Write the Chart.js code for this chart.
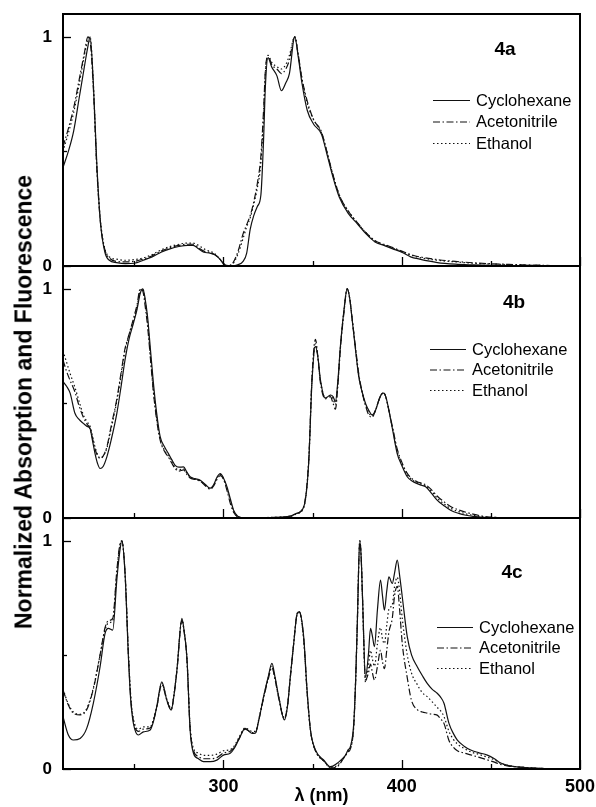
<!DOCTYPE html>
<html>
<head>
<meta charset="utf-8">
<script src="https://cdn.jsdelivr.net/npm/chart.js@4.4.1/dist/chart.umd.min.js"></script>
<style>
  body { margin: 0; background: #fff; }
  #wrap { position: relative; width: 596px; height: 807px; }
  #wrap canvas { position: absolute; left: 0; top: 0; }
  #ytitle {
    position: absolute; left: 24px; top: 402px;
    transform: translate(-50%, -50%) rotate(-90deg);
    white-space: nowrap; font: bold 23px 'Liberation Sans', Arial, sans-serif; color: #000;
  }
</style>
</head>
<body>
<div id="wrap">
  <canvas id="c4a" width="596" height="807"></canvas>
  <canvas id="c4b" width="596" height="807"></canvas>
  <canvas id="c4c" width="596" height="807"></canvas>
  <div id="ytitle">Normalized Absorption and Fluorescence</div>
</div>
<script>
// ---- data ----
const solvents = ['Cyclohexane', 'Acetonitrile', 'Ethanol'];
const xTicks = [250, 300, 350, 400, 450, 500];
const yTicks = [0, 0.5, 1];

// 4a
const wl4a = [210,213,216,219,222,224,225.2,227,229,231,233.5,236,240,245,250,255,260,265,270,275,
  280,283,286,289,292,295,298,300,302,305,308,311,313,315,317,319,321,322.5,323.5,325,
  327,330,332.5,335,337,340,342,344,347,350.5,355,358,361,365,370,375,380,385,390,395,
  400,405,410,420,430,440,450,460,470,480,490,500];
const cyc4a = [0.43,0.50,0.59,0.73,0.87,0.96,1.0,0.80,0.44,0.19,
  0.06,0.025,0.015,0.01,0.012,0.025,0.04,0.06,0.075,0.085,
  0.09,0.09,0.075,0.06,0.057,0.05,0.03,0.01,0,0,
  0.005,0.02,0.055,0.16,0.22,0.26,0.31,0.55,0.78,0.91,
  0.87,0.83,0.765,0.80,0.84,1.0,0.91,0.80,0.68,0.62,
  0.575,0.49,0.40,0.30,0.23,0.185,0.14,0.105,0.09,0.075,
  0.06,0.04,0.03,0.015,0.008,0.005,0.003,0.002,0.001,0,0,0];
const ace4a = [0.52,0.60,0.69,0.81,0.93,1.0,0.98,0.78,0.42,0.19,
  0.07,0.035,0.02,0.018,0.02,0.03,0.045,0.065,0.08,0.09,
  0.095,0.095,0.08,0.065,0.06,0.05,0.03,0.012,0,0.01,
  0.06,0.14,0.18,0.22,0.28,0.36,0.48,0.68,0.85,0.92,
  0.88,0.86,0.84,0.86,0.90,1.0,0.92,0.82,0.72,0.64,
  0.585,0.50,0.41,0.31,0.24,0.19,0.145,0.11,0.095,0.08,
  0.065,0.05,0.04,0.028,0.02,0.014,0.01,0.007,0.005,0.003,0.001,0];
const eth4a = [0.50,0.58,0.67,0.79,0.92,0.99,1.0,0.80,0.43,0.20,
  0.075,0.04,0.03,0.025,0.028,0.035,0.05,0.07,0.085,0.095,
  0.10,0.10,0.09,0.075,0.065,0.055,0.03,0.012,0.003,0.008,
  0.05,0.12,0.17,0.21,0.27,0.34,0.45,0.65,0.84,0.92,
  0.89,0.87,0.86,0.88,0.92,1.0,0.92,0.82,0.71,0.64,
  0.58,0.50,0.41,0.31,0.24,0.19,0.145,0.11,0.092,0.078,
  0.063,0.048,0.037,0.025,0.018,0.012,0.009,0.006,0.004,0.002,0.001,0];

// 4b
const wl4b = [210,212,214,216.7,219,221.4,223.5,225.2,226.5,228,229.5,230.8,232.5,234.6,237,240.2,242.5,244.8,247,249.5,
  251.5,253.3,254.8,256,257.4,259,260.7,262.5,264.5,267,269.2,271,272.9,275,277.6,279.5,281.3,284,287,290,
  292.6,294.5,296.5,298.2,300,302,304,305.7,308,312,320,330,337.5,341,345,347.8,349.7,351.6,353,354.4,
  357.2,360,361.5,362.8,364.2,365.6,367.5,369.4,370.8,372.2,374,375.9,377.8,379.7,381.5,383.4,385.3,387.2,388.6,390,
  391.4,392.8,395,397.5,400,403.1,406,408.7,411,413.4,416.5,420,423.5,427.4,432,436,440,444,448,455,
  465,480,500];
const cyc4b = [0.595,0.575,0.545,0.457,0.43,0.413,0.40,0.39,0.34,0.28,
  0.235,0.216,0.225,0.267,0.34,0.457,0.57,0.69,0.78,0.85,
  0.91,0.98,1.0,0.96,0.88,0.74,0.59,0.46,0.355,0.31,
  0.28,0.255,0.23,0.222,0.223,0.20,0.18,0.172,0.165,0.145,
  0.13,0.145,0.18,0.194,0.175,0.136,0.08,0.034,0.008,0,
  0,0.003,0.008,0.02,0.048,0.238,0.60,0.749,0.70,0.603,
  0.523,0.537,0.53,0.508,0.60,0.749,0.90,1.0,0.96,0.866,
  0.74,0.617,0.55,0.50,0.47,0.45,0.47,0.515,0.54,0.545,
  0.52,0.47,0.38,0.28,0.23,0.18,0.16,0.15,0.143,0.136,
  0.11,0.077,0.055,0.034,0.02,0.012,0.007,0.004,0.002,0.001,
  0,0,0];
const ace4b = [0.69,0.64,0.60,0.55,0.49,0.44,0.41,0.39,0.35,0.30,
  0.27,0.26,0.27,0.31,0.40,0.52,0.63,0.74,0.80,0.87,
  0.93,1.0,0.99,0.93,0.84,0.70,0.55,0.43,0.34,0.29,
  0.265,0.24,0.215,0.205,0.21,0.19,0.175,0.168,0.16,0.14,
  0.125,0.14,0.17,0.185,0.17,0.12,0.06,0.025,0.005,0,
  0,0.003,0.008,0.02,0.05,0.25,0.62,0.78,0.70,0.59,
  0.52,0.53,0.50,0.475,0.58,0.74,0.89,1.0,0.96,0.87,
  0.75,0.63,0.55,0.49,0.45,0.44,0.47,0.515,0.54,0.545,
  0.52,0.47,0.39,0.30,0.245,0.195,0.17,0.158,0.152,0.145,
  0.125,0.095,0.072,0.05,0.035,0.025,0.017,0.01,0.005,0.002,
  0.001,0,0];
const eth4b = [0.73,0.68,0.63,0.57,0.51,0.45,0.42,0.40,0.36,0.31,
  0.275,0.262,0.27,0.305,0.39,0.51,0.62,0.73,0.80,0.86,
  0.92,0.99,1.0,0.95,0.86,0.71,0.56,0.44,0.345,0.295,
  0.27,0.245,0.22,0.21,0.215,0.195,0.178,0.17,0.162,0.142,
  0.128,0.142,0.175,0.19,0.172,0.128,0.07,0.03,0.006,0.002,
  0.002,0.003,0.006,0.018,0.045,0.24,0.61,0.76,0.70,0.60,
  0.525,0.535,0.52,0.495,0.59,0.745,0.90,1.0,0.96,0.868,
  0.745,0.62,0.55,0.495,0.46,0.445,0.47,0.515,0.54,0.545,
  0.52,0.47,0.385,0.29,0.238,0.19,0.165,0.155,0.148,0.14,
  0.118,0.086,0.063,0.042,0.028,0.018,0.012,0.007,0.004,0.002,
  0,0,0];

// 4c
const wl4c = [210,213,215.8,219.6,223.3,227,230.8,233.6,235.5,237.9,240.2,241.8,243,244.8,246.7,248,249.5,252.3,255.1,258.9,
  260.8,262.6,265.4,268.3,270.7,272.2,273.9,276.7,278,279.5,281.3,283.2,286,288.8,292.5,296.3,300,303.8,306,308.5,
  312.2,316,317.9,320,322.5,325,327.2,329,331,334.2,336,337.5,339.4,341.3,342.5,345,346.9,348.8,351.6,356.3,
  360,363.8,366,368.5,370,371.2,373.1,374.2,375,376.5,377.3,378,379.7,381.3,382.5,383.6,384.7,386.4,388.1,389.2,
  390.3,391.6,392.8,394.7,396,397.5,398.8,400.3,403.1,405.5,408.7,411.5,414.3,417,419.9,421.8,423.7,426.5,429,431.2,
  435,438.7,443,448,452,455.5,460,470,480,490,500];
const cyc4c = [0.229,0.149,0.127,0.134,0.178,0.288,0.448,0.594,0.616,0.609,
  0.83,0.95,1.0,0.857,0.49,0.30,0.20,0.149,0.163,0.171,
  0.21,0.273,0.382,0.30,0.258,0.32,0.434,0.66,0.60,0.49,
  0.171,0.069,0.045,0.032,0.032,0.039,0.061,0.069,0.09,0.127,
  0.178,0.156,0.157,0.22,0.317,0.40,0.463,0.40,0.317,0.215,
  0.28,0.404,0.55,0.68,0.69,0.58,0.346,0.171,0.083,0.039,
  0.01,0.025,0.04,0.061,0.085,0.098,0.20,0.40,0.61,1.0,
  0.92,0.755,0.404,0.50,0.616,0.58,0.536,0.70,0.828,0.76,
  0.696,0.78,0.842,0.813,0.86,0.915,0.85,0.755,0.58,0.50,
  0.448,0.41,0.375,0.35,0.332,0.315,0.288,0.20,0.155,0.127,
  0.10,0.083,0.072,0.061,0.045,0.026,0.015,0.006,0.002,0,0];
const ace4c = [0.346,0.28,0.245,0.237,0.26,0.35,0.50,0.62,0.65,0.66,
  0.87,0.98,1.0,0.86,0.50,0.31,0.21,0.165,0.175,0.18,
  0.215,0.27,0.37,0.30,0.26,0.32,0.43,0.65,0.60,0.48,
  0.18,0.08,0.055,0.045,0.045,0.05,0.07,0.078,0.095,0.13,
  0.175,0.16,0.16,0.22,0.31,0.39,0.445,0.39,0.31,0.22,
  0.28,0.40,0.55,0.68,0.69,0.57,0.34,0.17,0.08,0.035,
  0.005,0.01,0.03,0.06,0.075,0.088,0.19,0.40,0.62,1.0,
  0.92,0.75,0.39,0.42,0.46,0.42,0.39,0.45,0.52,0.47,
  0.44,0.52,0.60,0.66,0.76,0.80,0.70,0.55,0.40,0.30,
  0.26,0.25,0.245,0.24,0.236,0.22,0.20,0.125,0.095,0.08,
  0.07,0.062,0.052,0.04,0.03,0.02,0.013,0.006,0.002,0,0];
const eth4c = [0.35,0.285,0.25,0.24,0.265,0.355,0.50,0.61,0.64,0.65,
  0.86,0.97,1.0,0.86,0.51,0.32,0.22,0.175,0.185,0.185,
  0.22,0.275,0.375,0.305,0.265,0.325,0.435,0.655,0.60,0.49,
  0.19,0.09,0.07,0.06,0.06,0.065,0.08,0.085,0.10,0.135,
  0.18,0.165,0.165,0.225,0.315,0.395,0.45,0.395,0.315,0.225,
  0.285,0.40,0.55,0.675,0.685,0.57,0.34,0.17,0.08,0.035,
  0.008,0.015,0.035,0.06,0.08,0.09,0.19,0.40,0.61,1.0,
  0.92,0.75,0.38,0.45,0.52,0.48,0.45,0.55,0.62,0.57,
  0.55,0.63,0.70,0.72,0.80,0.84,0.78,0.66,0.50,0.42,
  0.37,0.335,0.317,0.295,0.27,0.255,0.23,0.165,0.13,0.11,
  0.09,0.075,0.065,0.052,0.04,0.025,0.015,0.006,0.002,0,0];

// ---- styling ----
const FONT = "'Liberation Sans', Arial, sans-serif";
Chart.defaults.font.family = FONT;
Chart.defaults.color = '#000';
const dashes = [[], [7, 2.5, 1.5, 2.5], [1.5, 2.5]];

function pts(wl, vals) {
  return wl.map((x, i) => ({ x: x, y: vals[i] }));
}

// frame, inward ticks, panel tag and legend
const panelDeco = {
  id: 'panelDeco',
  afterDraw(chart, args, opts) {
    const ctx = chart.ctx;
    const a = chart.chartArea;
    const xs = chart.scales.x, ys = chart.scales.y;
    ctx.save();
    ctx.strokeStyle = '#000';
    ctx.lineWidth = 1.3;
    xTicks.forEach(v => {
      const px = Math.round(xs.getPixelForValue(v)) + 0.5;
      const len = v % 100 === 0 ? 9 : 5;
      ctx.beginPath(); ctx.moveTo(px, a.bottom); ctx.lineTo(px, a.bottom - len); ctx.stroke();
    });
    yTicks.forEach(v => {
      const py = Math.round(ys.getPixelForValue(v)) + 0.5;
      const len = v === 0.5 ? 4 : 8;
      ctx.beginPath(); ctx.moveTo(a.left, py); ctx.lineTo(a.left + len, py); ctx.stroke();
    });
    ctx.lineWidth = 2;
    ctx.strokeRect(a.left, a.top, a.right - a.left, a.bottom - a.top);

    ctx.fillStyle = '#000';
    ctx.font = 'bold 19px ' + FONT;
    ctx.textAlign = 'center';
    ctx.textBaseline = 'middle';
    ctx.fillText(opts.tag, opts.tagX, opts.tagY);

    ctx.font = '16.5px ' + FONT;
    ctx.textAlign = 'left';
    chart.data.datasets.forEach((ds, i) => {
      const y = opts.legY + i * opts.legGap;
      ctx.save();
      ctx.lineWidth = 1.1;
      ctx.strokeStyle = ds.borderColor;
      ctx.setLineDash(ds.borderDash);
      ctx.beginPath(); ctx.moveTo(opts.legX, y + 0.5); ctx.lineTo(opts.legX + opts.legLen, y + 0.5); ctx.stroke();
      ctx.restore();
      ctx.fillText(ds.label, opts.legX + opts.legLen + 6, y + 1);
    });
    ctx.restore();
  }
};

function makePanel(id, wl, series, cfg) {
  const datasets = series.map((vals, i) => ({
    label: solvents[i],
    data: pts(wl, vals),
    borderColor: '#111',
    borderWidth: 1.2,
    borderDash: dashes[i],
    pointRadius: 0,
    fill: false,
    cubicInterpolationMode: 'monotone'
  }));
  return new Chart(document.getElementById(id), {
    type: 'line',
    data: { datasets: datasets },
    plugins: [panelDeco],
    options: {
      responsive: false,
      animation: false,
      events: [],
      layout: { padding: { top: cfg.top, bottom: cfg.bottom, left: 0, right: 16 } },
      plugins: {
        legend: { display: false },
        tooltip: { enabled: false },
        panelDeco: cfg.deco
      },
      scales: {
        x: {
          type: 'linear', min: 210, max: 500,
          display: cfg.showX,
          grid: { display: false, drawTicks: false },
          border: { display: false },
          afterBuildTicks: s => { s.ticks = xTicks.map(v => ({ value: v })); },
          afterFit: s => {
            s.paddingLeft = 0; s.paddingRight = 0;
            s.height = cfg.showX ? 38 : 0;
          },
          ticks: {
            autoSkip: false, maxRotation: 0, padding: 7,
            font: { size: 18, weight: 'bold' },
            callback: v => (v % 100 === 0 ? String(v) : '')
          },
          title: { display: true, text: 'λ (nm)', padding: 0, font: { size: 18, weight: 'bold' } }
        },
        y: {
          min: 0, max: 1.1,
          grid: { display: false, drawTicks: false },
          border: { display: false },
          afterBuildTicks: s => { s.ticks = yTicks.map(v => ({ value: v })); },
          afterFit: s => { s.width = 63; s.paddingTop = 0; s.paddingBottom = 0; },
          ticks: {
            padding: 11,
            font: { size: 17, weight: 'bold' },
            callback: v => (v === 0 || v === 1 ? String(v) : '')
          }
        }
      }
    }
  });
}

makePanel('c4a', wl4a, [cyc4a, ace4a, eth4a], {
  top: 14, bottom: 541, showX: false,
  deco: { tag: '4a', tagX: 505, tagY: 50, legX: 433, legLen: 37, legY: 100, legGap: 21.5 }
});
makePanel('c4b', wl4b, [cyc4b, ace4b, eth4b], {
  top: 266, bottom: 289, showX: false,
  deco: { tag: '4b', tagX: 514, tagY: 303, legX: 430, legLen: 36, legY: 349, legGap: 20.5 }
});
makePanel('c4c', wl4c, [cyc4c, ace4c, eth4c], {
  top: 518, bottom: 0, showX: true,
  deco: { tag: '4c', tagX: 512, tagY: 573, legX: 437, legLen: 36, legY: 627, legGap: 20.5 }
});
</script>
</body>
</html>
